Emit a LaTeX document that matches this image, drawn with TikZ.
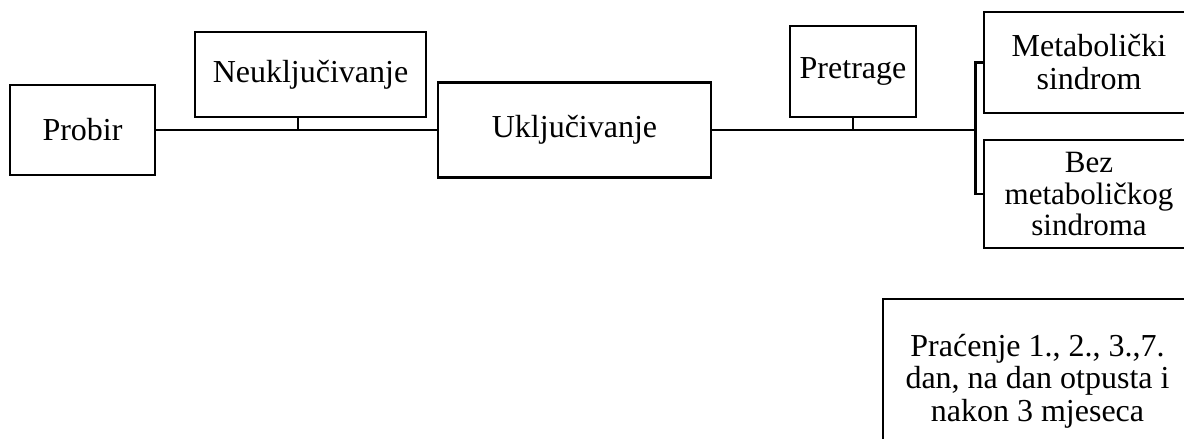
\documentclass[tikz,border=0pt]{standalone}
\usepackage{fontspec}
\setmainfont{Liberation Serif}
\usepackage{tikz}
\tikzstyle{box} = [rectangle, draw=black, line width=2.7pt, inner sep=0pt, align=center, font=\fontsize{32}{33}\selectfont]
\tikzstyle{line} = [line width=2.7pt]

\begin{document}
\begin{tikzpicture}[x=1pt, y=-1pt]
	\useasboundingbox (0,0) rectangle (1184,439);
	\clip (0,0) rectangle (1184,439);
	%Probir
	\node[box, minimum width=145pt, minimum height=90pt] (probir) at (82.5,130) {Probir};
	%Neukljucivanje
	\node[box, minimum width=231pt, minimum height=85pt] (neuklj) at (310.5,74.5) {Neuključivanje};
	%Ukljucivanje
	\node[box, minimum width=273pt, minimum height=95pt] (uklj) at (574.5,130) {Uključivanje};
	%Pretrage
	\node[box, minimum width=126pt, minimum height=91pt] (pretrage) at (853,71.5) {Pretrage};
	%Metabolicki sindrom
	\node[box, minimum width=210pt, minimum height=101pt] (metsin) at (1089,62.5) {Metabolički\\sindrom};
	%Bez metabolickog sindroma
	\node[box, minimum width=210pt, minimum height=108pt, font=\fontsize{31}{31.5}\selectfont] (bezmet) at (1089,194) {Bez\\metaboličkog\\sindroma};
	%Pracenje
	\node[box, minimum width=309pt, minimum height=164pt, font=\fontsize{32}{32.5}\selectfont] (pracenje) at (1037.5,381) {Praćenje 1., 2., 3.,7.\\dan, na dan otpusta i\\nakon 3 mjeseca};

	%main line
	\draw[line] (probir.east) -- (uklj.west);
	\draw[line] ([xshift=-12.5pt]neuklj.south) -- ([xshift=-12.5pt]neuklj.south |- probir.east);
	\coordinate (split) at ([xshift=-7pt]metsin.west |- uklj.east);
	\draw[line] (uklj.east) -- (split);
	\draw[line] (pretrage.south) -- (pretrage.south |- uklj.east);
	%branch
	\draw[line] (metsin.west) -- (split |- metsin.west) -- (split |- bezmet.west) -- (bezmet.west);
\end{tikzpicture}
\end{document}
